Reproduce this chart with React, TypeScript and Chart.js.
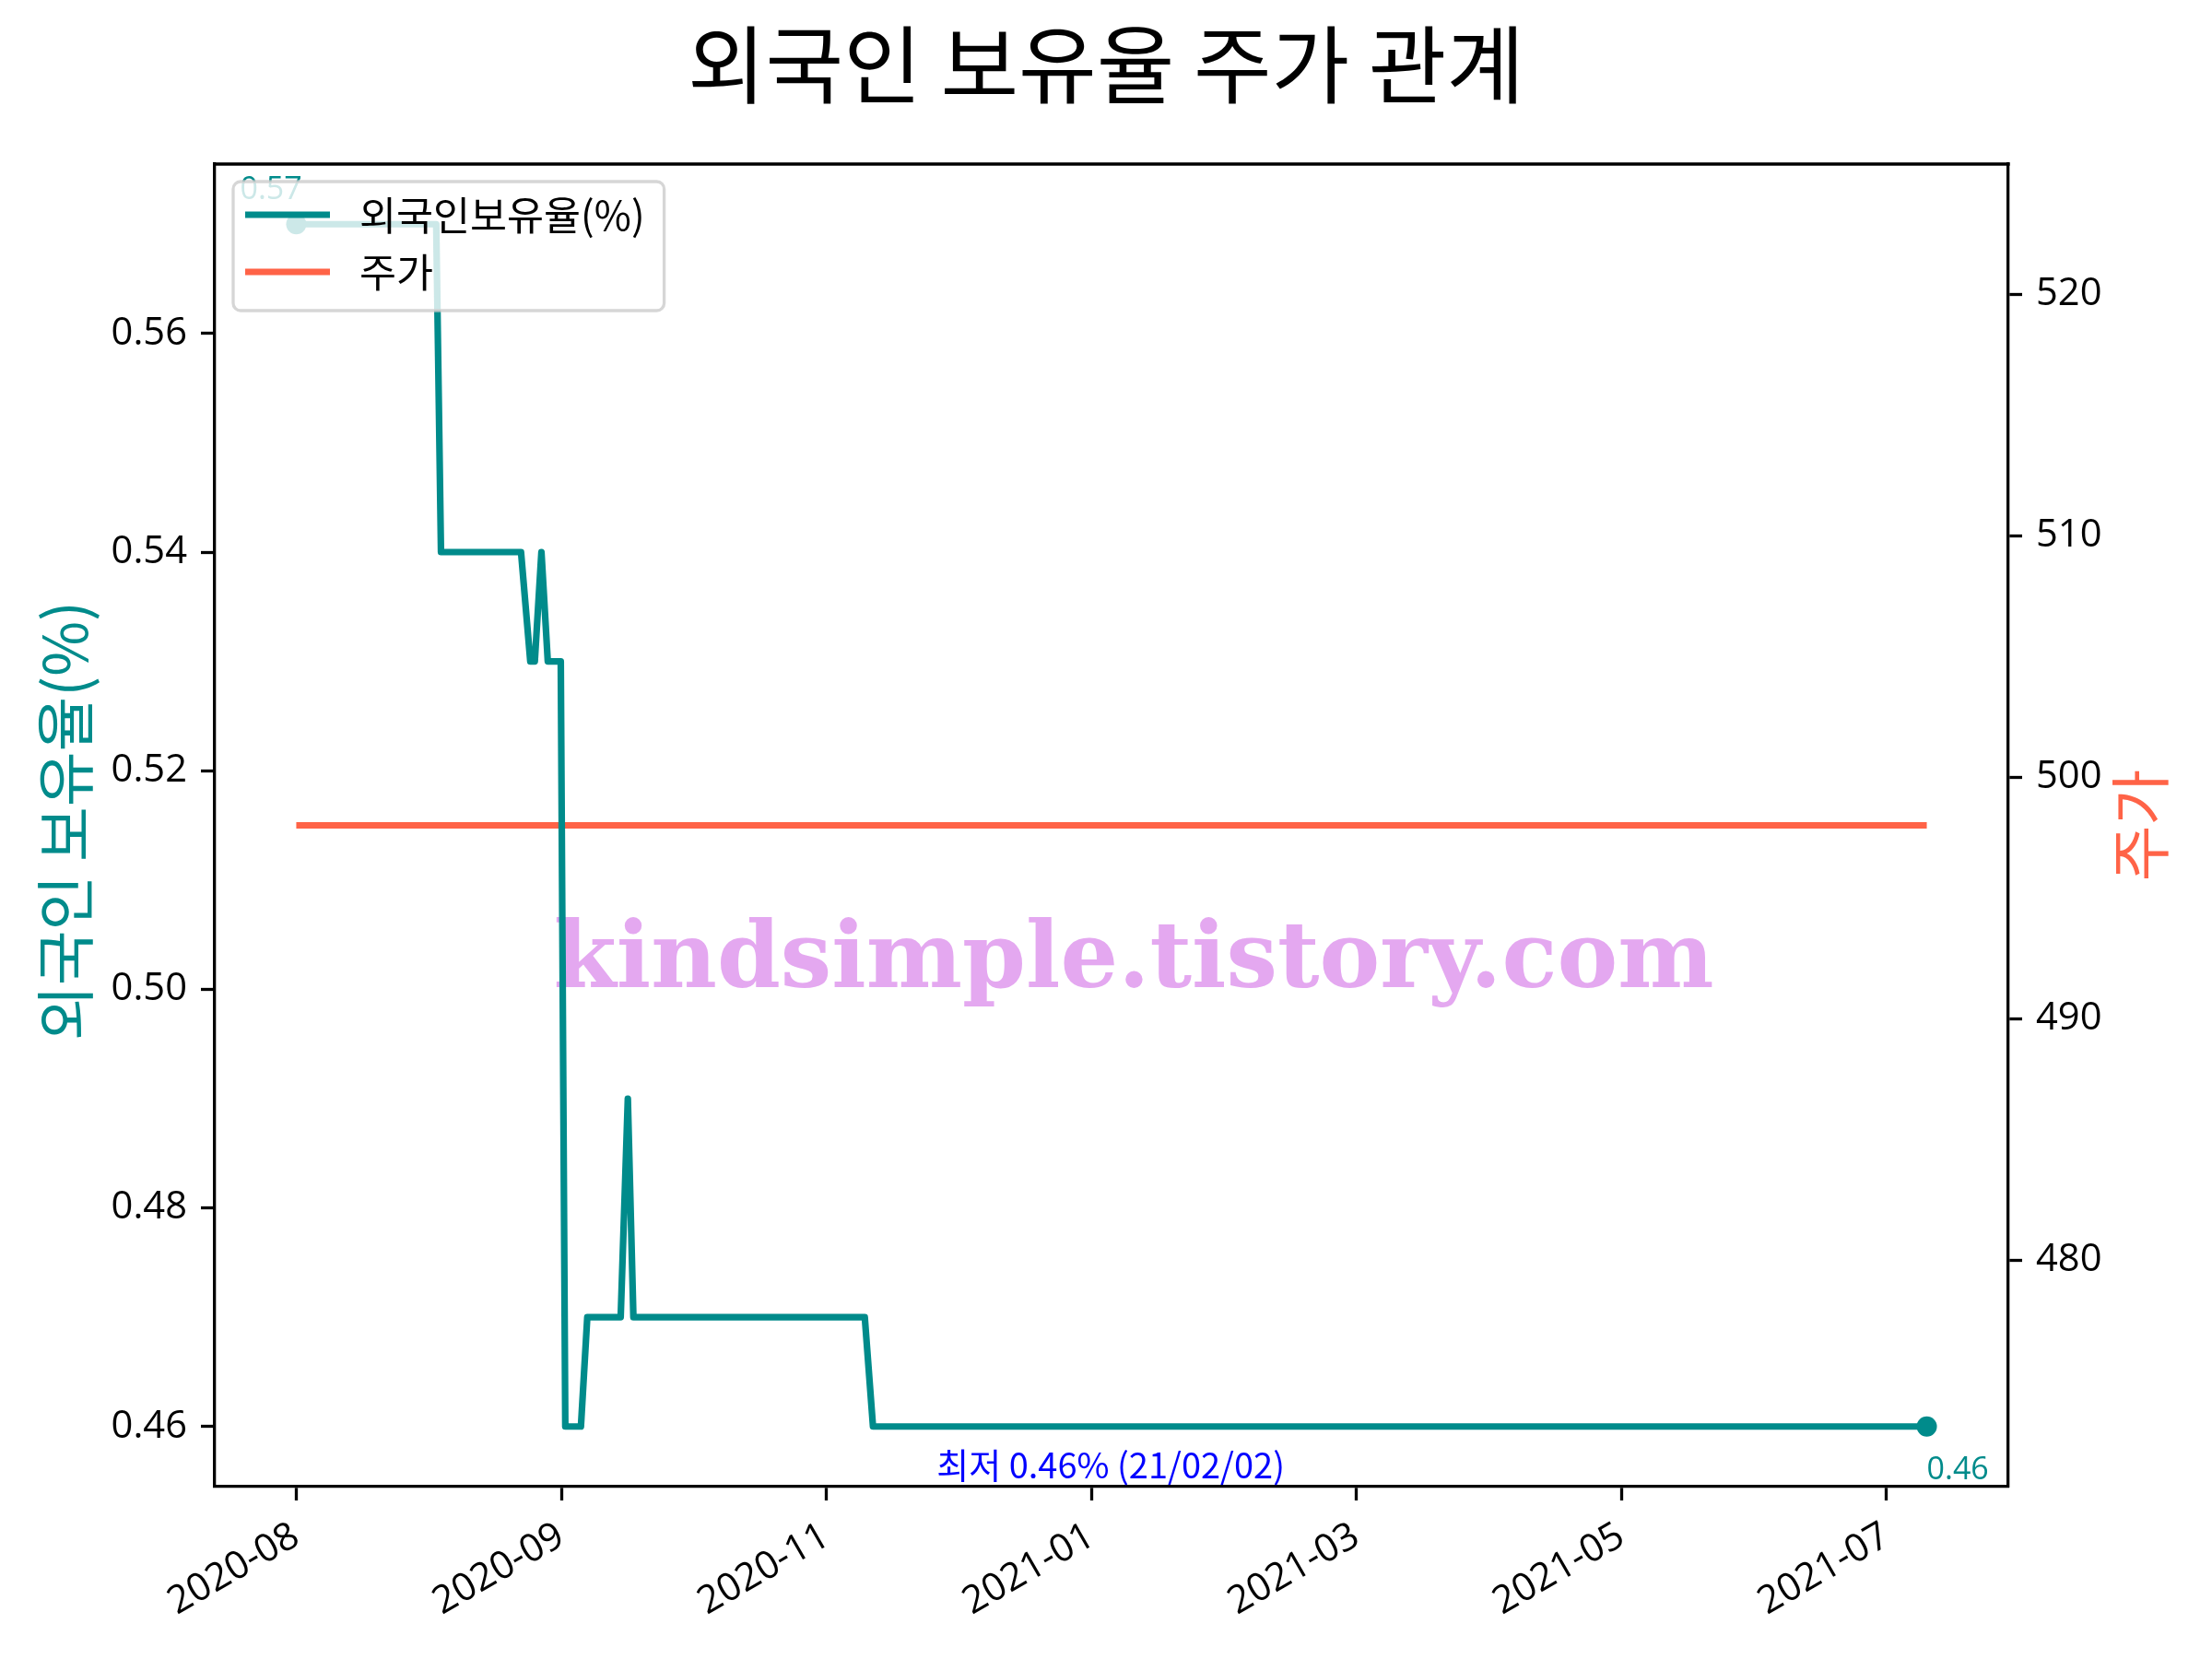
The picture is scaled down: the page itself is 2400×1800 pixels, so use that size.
import React, { useEffect, useRef } from "react";
import { Chart, registerables } from "chart.js";

Chart.register(...registerables);

// ---- data ----
const chartTitle = "외국인 보유율 주가 관계";
const holdLabel = "외국인보유율(%)";
const priceLabel = "주가";
const leftAxisTitle = "외국인 보유율(%)";
const rightAxisTitle = "주가";
const watermarkText = "kindsimple.tistory.com";

const xTickLabels = ["2020-08", "2020-09", "2020-11", "2021-01", "2021-03", "2021-05", "2021-07"];
// x positions in tick units (0 = first tick)
const holdX = [0, 0.528, 0.546, 0.848, 0.883, 0.9, 0.925, 0.949, 0.998, 1.015, 1.074, 1.098, 1.224, 1.251, 1.272, 2.145, 2.176, 6.152];
const holdY = [0.57, 0.57, 0.54, 0.54, 0.53, 0.53, 0.54, 0.53, 0.53, 0.46, 0.46, 0.47, 0.47, 0.49, 0.47, 0.47, 0.46, 0.46];
const priceX = [0, 6.152];
const priceY = [498, 498];
const minDateLabel = "21/02/02";
const minLabelX = 3.073;

const leftTicks = [0.46, 0.48, 0.5, 0.52, 0.54, 0.56];
const rightTicks = [480, 490, 500, 510, 520];

// ---- styles ----
const TEAL = "#008B8B";
const TOMATO = "#FF6347";
const FONT = "'Open Sans', 'Noto Sans CJK KR', sans-serif";
const KFONT = "'Noto Sans CJK KR', 'Open Sans', sans-serif";
const TICK_SIZE = 41.7;
const LEGEND_SIZE = 43.5;
const SPINE = 3.3;
const LINE_W = 7.2;

const xSpan = holdX[holdX.length - 1] - holdX[0];
const xMin = holdX[0] - 0.05 * xSpan;
const xMax = holdX[holdX.length - 1] + 0.05 * xSpan;
const lMinV = Math.min(...holdY), lMaxV = Math.max(...holdY);
const lSpan = lMaxV - lMinV;
const yMin = lMinV - 0.05 * lSpan;
const yMax = lMaxV + 0.05 * lSpan;
const pv = priceY[0];
const pLo = pv * 0.95, pHi = pv * 1.05;
const y1Min = pLo - 0.05 * (pHi - pLo);
const y1Max = pHi + 0.05 * (pHi - pLo);

const decoPlugin = {
  id: "deco",
  beforeDatasetsDraw(chart: any) {
    const ctx = chart.ctx;
    ctx.save();
    // watermark
    ctx.fillStyle = "#E4A8F0";
    let size = 90;
    ctx.font = `bold ${size}px 'DejaVu Serif', serif`;
    const w = ctx.measureText(watermarkText).width;
    size = size * 1259 / w;
    ctx.font = `bold ${size}px 'DejaVu Serif', serif`;
    ctx.textAlign = "center";
    ctx.textBaseline = "alphabetic";
    ctx.fillText(watermarkText, 1230, 1071);
    ctx.restore();
  },
  afterDatasetsDraw(chart: any) {
    const ctx = chart.ctx;
    const xs = chart.scales.x;
    const ys = chart.scales.y;
    const area = chart.chartArea;
    ctx.save();
    // annotations
    ctx.font = `34px ${FONT}`;
    ctx.textBaseline = "alphabetic";
    ctx.fillStyle = TEAL;
    ctx.textAlign = "left";
    const fx = xs.getPixelForValue(holdX[0]);
    const fy = ys.getPixelForValue(holdY[0]);
    ctx.fillText(holdY[0].toFixed(2), fx - 61, fy - 27);
    const li = holdX.length - 1;
    const lx = xs.getPixelForValue(holdX[li]);
    const ly = ys.getPixelForValue(holdY[li]);
    ctx.fillText(holdY[li].toFixed(2), lx, ly + 57);
    // min label
    const mn = Math.min(...holdY);
    ctx.fillStyle = "#0000FF";
    ctx.textAlign = "center";
    ctx.font = `38px ${KFONT}`;
    ctx.fillText(`최저 ${mn.toFixed(2)}% (${minDateLabel})`, xs.getPixelForValue(minLabelX), ys.getPixelForValue(mn) + 56);

    // legend
    const lx0 = 253, ly0 = 197;
    ctx.font = `${LEGEND_SIZE}px ${KFONT}`;
    const tw = Math.max(ctx.measureText(holdLabel).width, ctx.measureText(priceLabel).width);
    const lw = 390 - lx0 + tw + 21;
    const lh = 140;
    const r = 8;
    ctx.beginPath();
    ctx.moveTo(lx0 + r, ly0);
    ctx.lineTo(lx0 + lw - r, ly0);
    ctx.arcTo(lx0 + lw, ly0, lx0 + lw, ly0 + r, r);
    ctx.lineTo(lx0 + lw, ly0 + lh - r);
    ctx.arcTo(lx0 + lw, ly0 + lh, lx0 + lw - r, ly0 + lh, r);
    ctx.lineTo(lx0 + r, ly0 + lh);
    ctx.arcTo(lx0, ly0 + lh, lx0, ly0 + lh - r, r);
    ctx.lineTo(lx0, ly0 + r);
    ctx.arcTo(lx0, ly0, lx0 + r, ly0, r);
    ctx.closePath();
    ctx.fillStyle = "rgba(255,255,255,0.8)";
    ctx.fill();
    ctx.strokeStyle = "rgba(204,204,204,0.8)";
    ctx.lineWidth = 3.3;
    ctx.stroke();
    const rows = [
      { label: holdLabel, color: TEAL, y: 233 },
      { label: priceLabel, color: TOMATO, y: 295 },
    ];
    for (const row of rows) {
      ctx.strokeStyle = row.color;
      ctx.lineWidth = LINE_W;
      ctx.lineCap = "butt";
      ctx.beginPath();
      ctx.moveTo(266, row.y);
      ctx.lineTo(358, row.y);
      ctx.stroke();
      ctx.fillStyle = "#000";
      ctx.textAlign = "left";
      ctx.textBaseline = "middle";
      ctx.fillText(row.label, 390, row.y);
    }
    // top spine
    ctx.strokeStyle = "#000";
    ctx.lineWidth = SPINE;
    ctx.lineCap = "square";
    ctx.beginPath();
    ctx.moveTo(area.left, area.top);
    ctx.lineTo(area.right, area.top);
    ctx.stroke();
    ctx.restore();
  },
  afterDraw(chart: any) {
    const ctx = chart.ctx;
    const area = chart.chartArea;
    const cy = (area.top + area.bottom) / 2;
    ctx.save();
    ctx.fillStyle = "#000";
    ctx.font = `92px ${KFONT}`;
    ctx.textAlign = "center";
    ctx.textBaseline = "middle";
    ctx.fillText(chartTitle, 1200, 70);
    // axis titles
    ctx.font = `65px ${KFONT}`;
    ctx.fillStyle = TEAL;
    ctx.translate(70, cy - 5);
    ctx.rotate(-Math.PI / 2);
    ctx.fillText(leftAxisTitle, 0, 0);
    ctx.restore();
    ctx.save();
    ctx.font = `66px ${KFONT}`;
    ctx.fillStyle = TOMATO;
    ctx.textAlign = "center";
    ctx.textBaseline = "middle";
    ctx.translate(2322, cy);
    ctx.rotate(-Math.PI / 2);
    ctx.fillText(rightAxisTitle, 0, 0);
    ctx.restore();
  },
};

export default function App() {
  const ref = useRef<HTMLCanvasElement | null>(null);
  useEffect(() => {
    document.body.style.margin = "0";
    if (!ref.current) return;
    const tickFont = { family: FONT, size: TICK_SIZE };
    const axisCommon = {
      grid: { drawOnChartArea: false, drawTicks: true, tickLength: 15, tickWidth: SPINE, color: "#000" },
      border: { display: true, color: "#000", width: SPINE },
    };
    const chart = new Chart(ref.current, {
      type: "line",
      data: {
        datasets: [
          {
            label: holdLabel,
            data: holdX.map((x, i) => ({ x, y: holdY[i] })),
            borderColor: TEAL,
            backgroundColor: TEAL,
            borderWidth: LINE_W,
            borderJoinStyle: "round",
            borderCapStyle: "round",
            pointRadius: (c: any) => (c.dataIndex === 0 || c.dataIndex === holdX.length - 1 ? 11 : 0),
            pointBorderWidth: 0,
            pointHoverRadius: 0,
            tension: 0,
            yAxisID: "y",
            order: 1,
          },
          {
            label: priceLabel,
            data: priceX.map((x, i) => ({ x, y: priceY[i] })),
            borderColor: TOMATO,
            backgroundColor: TOMATO,
            borderWidth: LINE_W,
            borderCapStyle: "butt",
            pointRadius: 0,
            tension: 0,
            yAxisID: "y1",
            order: 2,
          },
        ],
      },
      options: {
        animation: false,
        responsive: false,
        devicePixelRatio: 1,
        layout: { padding: { top: 178, left: 0, right: 0, bottom: 0 } },
        plugins: { legend: { display: false }, title: { display: false }, tooltip: { enabled: false } },
        events: [],
        scales: {
          x: {
            type: "linear",
            position: "bottom",
            min: xMin,
            max: xMax,
            ...axisCommon,
            ticks: {
              stepSize: 1,
              includeBounds: false,
              autoSkip: false,
              maxRotation: 30,
              minRotation: 30,
              padding: 14,
              color: "#000",
              font: tickFont,
              callback: (v: any) => (Number.isInteger(v) && xTickLabels[v] !== undefined ? xTickLabels[v] : ""),
            },
            afterFit: (s: any) => { s.height = 187; },
          },
          y: {
            type: "linear",
            position: "left",
            min: yMin,
            max: yMax,
            ...axisCommon,
            afterBuildTicks: (s: any) => { s.ticks = leftTicks.map((v) => ({ value: v })); },
            ticks: { padding: 15, color: "#000", font: tickFont, callback: (v: any) => Number(v).toFixed(2) },
            afterFit: (s: any) => { s.width = 233; },
          },
          y1: {
            type: "linear",
            position: "right",
            min: y1Min,
            max: y1Max,
            ...axisCommon,
            afterBuildTicks: (s: any) => { s.ticks = rightTicks.map((v) => ({ value: v })); },
            ticks: { padding: 15, color: "#000", font: tickFont, callback: (v: any) => String(Math.round(Number(v))) },
            afterFit: (s: any) => { s.width = 221; },
          },
        },
      },
      plugins: [decoPlugin],
    } as any);
    return () => chart.destroy();
  }, []);
  return <canvas ref={ref} width={2400} height={1800} style={{ display: "block", width: 2400, height: 1800 }} />;
}
